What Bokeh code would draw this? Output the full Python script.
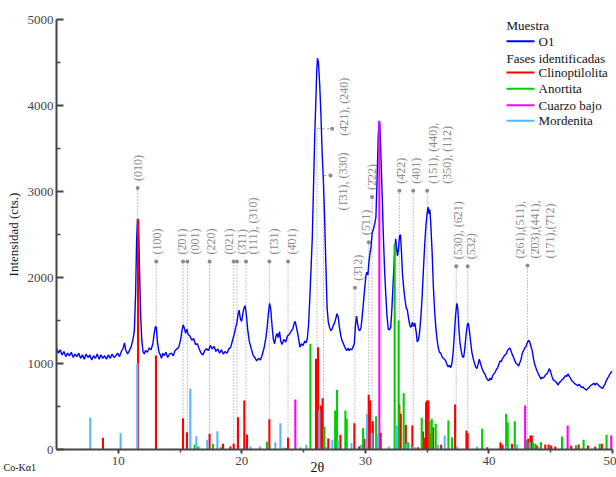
import math
from bokeh.plotting import figure
from bokeh.models import Range1d, FixedTicker, Title, ColumnDataSource
from bokeh.core.properties import value
from bokeh.embed import file_html
from bokeh.resources import INLINE

# ---------------- data ----------------
two_theta = [5.0, 5.15, 5.3, 5.45, 5.6, 5.75, 5.9, 6.05, 6.2, 6.35, 6.5, 6.65, 6.8, 6.95, 7.1, 7.25, 7.4, 7.55, 7.7, 7.85,
             8.0, 8.15, 8.3, 8.45, 8.6, 8.75, 8.9, 9.05, 9.2, 9.35, 9.5, 9.65, 9.8, 9.95, 10.1, 10.25, 10.4, 10.5, 10.6, 10.75,
             10.9, 11.05, 11.2, 11.3, 11.4, 11.48, 11.55, 11.63, 11.72, 11.8, 11.9, 12.0, 12.1, 12.2, 12.35, 12.5, 12.65, 12.8, 12.9, 13.0,
             13.08, 13.18, 13.3, 13.4, 13.5, 13.6, 13.7, 13.85, 14.0, 14.15, 14.3, 14.45, 14.6, 14.75, 14.9, 15.05, 15.15, 15.25, 15.35, 15.45,
             15.55, 15.65, 15.8, 15.95, 16.1, 16.25, 16.4, 16.55, 16.7, 16.85, 17.0, 17.15, 17.3, 17.45, 17.6, 17.75, 17.9, 18.05, 18.2, 18.35,
             18.5, 18.65, 18.8, 18.95, 19.1, 19.25, 19.4, 19.5, 19.6, 19.7, 19.78, 19.88, 19.98, 20.08, 20.18, 20.27, 20.37, 20.47, 20.6, 20.75,
             20.9, 21.05, 21.2, 21.35, 21.5, 21.65, 21.8, 21.95, 22.05, 22.15, 22.25, 22.35, 22.45, 22.55, 22.65, 22.75, 22.85, 22.95, 23.05, 23.15,
             23.25, 23.4, 23.55, 23.7, 23.85, 24.0, 24.12, 24.22, 24.32, 24.42, 24.55, 24.7, 24.82, 24.95, 25.1, 25.2, 25.3, 25.4, 25.5, 25.6,
             25.7, 25.8, 25.9, 25.98, 26.06, 26.12, 26.2, 26.3, 26.4, 26.5, 26.6, 26.7, 26.8, 26.9, 27.0, 27.1, 27.2, 27.3, 27.4, 27.5,
             27.6, 27.7, 27.8, 27.9, 28.0, 28.1, 28.2, 28.3, 28.4, 28.5, 28.6, 28.7, 28.8, 28.9, 29.0, 29.1, 29.2, 29.28, 29.36, 29.45,
             29.55, 29.65, 29.75, 29.85, 29.95, 30.05, 30.12, 30.2, 30.3, 30.38, 30.45, 30.55, 30.65, 30.75, 30.85, 30.95, 31.03, 31.1, 31.17, 31.25,
             31.35, 31.45, 31.55, 31.65, 31.75, 31.85, 31.95, 32.05, 32.15, 32.25, 32.35, 32.45, 32.52, 32.6, 32.68, 32.76, 32.84, 32.92, 33.0, 33.1,
             33.2, 33.3, 33.4, 33.5, 33.6, 33.7, 33.8, 33.9, 34.0, 34.1, 34.2, 34.3, 34.4, 34.5, 34.6, 34.7, 34.8, 34.9, 35.0, 35.08,
             35.15, 35.22, 35.3, 35.4, 35.5, 35.6, 35.7, 35.8, 35.9, 36.0, 36.1, 36.2, 36.3, 36.4, 36.5, 36.6, 36.7, 36.8, 36.9, 37.0,
             37.1, 37.2, 37.3, 37.4, 37.48, 37.56, 37.65, 37.75, 37.85, 37.95, 38.05, 38.15, 38.25, 38.33, 38.42, 38.52, 38.62, 38.72, 38.82, 38.92,
             39.02, 39.12, 39.22, 39.3, 39.4, 39.5, 39.6, 39.7, 39.8, 39.9, 40.0, 40.1, 40.2, 40.3, 40.4, 40.5, 40.6, 40.7, 40.8, 40.9,
             41.0, 41.1, 41.2, 41.3, 41.4, 41.5, 41.6, 41.7, 41.8, 41.9, 42.0, 42.1, 42.2, 42.3, 42.4, 42.5, 42.6, 42.7, 42.8, 42.9,
             43.0, 43.1, 43.2, 43.3, 43.4, 43.5, 43.6, 43.7, 43.8, 43.9, 44.0, 44.1, 44.2, 44.3, 44.4, 44.5, 44.6, 44.7, 44.8, 44.9,
             45.0, 45.1, 45.2, 45.3, 45.4, 45.5, 45.6, 45.7, 45.8, 45.9, 46.0, 46.1, 46.2, 46.3, 46.4, 46.5, 46.6, 46.7, 46.8, 46.9,
             47.0, 47.1, 47.2, 47.3, 47.4, 47.5, 47.6, 47.7, 47.8, 47.9, 48.0, 48.1, 48.2, 48.3, 48.4, 48.5, 48.6, 48.7, 48.8, 48.9,
             49.0, 49.1, 49.2, 49.3, 49.4, 49.5, 49.6, 49.7, 49.8, 49.9, 50.0]
intensity = [1180, 1120, 1160, 1100, 1140, 1080, 1120, 1090, 1130, 1070, 1110, 1080, 1120, 1060, 1100, 1050, 1110, 1070, 1100, 1040,
             1090, 1060, 1110, 1050, 1100, 1060, 1090, 1050, 1100, 1060, 1110, 1070, 1090, 1120, 1080, 1140, 1180, 1240, 1160, 1110,
             1150, 1200, 1290, 1380, 1800, 2400, 2680, 2650, 2100, 1600, 1280, 1140, 1110, 1150, 1130, 1180, 1160, 1230, 1340, 1430,
             1420, 1240, 1130, 1100, 1060, 1120, 1090, 1130, 1070, 1110, 1120, 1090, 1150, 1170, 1190, 1280, 1380, 1450, 1410, 1350,
             1400, 1340, 1320, 1270, 1290, 1220, 1230, 1170, 1120, 1100, 1150, 1170, 1150, 1210, 1170, 1200, 1140, 1170, 1120, 1160,
             1110, 1140, 1120, 1170, 1190, 1270, 1350, 1420, 1470, 1580, 1620, 1520, 1490, 1580, 1650, 1670, 1560, 1400, 1260, 1180,
             1100, 1070, 1030, 1060, 1040, 1100, 1180, 1300, 1420, 1580, 1700, 1620, 1430, 1280, 1230, 1310, 1350, 1300, 1370, 1260,
             1220, 1280, 1250, 1320, 1340, 1380, 1400, 1460, 1490, 1420, 1330, 1190, 1230, 1210, 1260, 1240, 1290, 1450, 1750, 2100,
             2450, 3050, 3650, 4000, 4400, 4550, 4500, 4250, 3900, 3450, 3130, 2700, 2150, 1650, 1480, 1420, 1380, 1400, 1440, 1470,
             1520, 1580, 1540, 1420, 1330, 1270, 1240, 1200, 1170, 1150, 1180, 1150, 1170, 1160, 1190, 1230, 1450, 1550, 1470, 1400,
             1380, 1420, 1560, 1720, 1880, 2030, 2060, 2030, 2200, 2290, 2350, 2520, 2560, 2620, 2700, 3150, 3600, 3820, 3780, 3450,
             3000, 2500, 2100, 1800, 1550, 1400, 1390, 1420, 1650, 1950, 2250, 2450, 2350, 2250, 2330, 2480, 2500, 2300, 2050, 1880,
             1750, 1650, 1620, 1520, 1440, 1420, 1480, 1430, 1470, 1380, 1250, 1280, 1380, 1560, 1800, 2100, 2380, 2600, 2750, 2820,
             2740, 2790, 2600, 2300, 1900, 1620, 1420, 1280, 1180, 1130, 1120, 1080, 1060, 1050, 1030, 990, 960, 980, 950, 1000,
             1120, 1340, 1560, 1700, 1640, 1420, 1250, 1150, 1080, 1070, 1180, 1340, 1450, 1470, 1380, 1250, 1130, 1060, 1010, 960,
             940, 990, 1050, 1010, 960, 920, 890, 870, 830, 810, 800, 830, 810, 860, 880, 900, 930, 950, 990, 1030,
             1020, 1060, 1080, 1100, 1110, 1150, 1170, 1180, 1140, 1100, 1070, 1030, 1000, 990, 970, 1010, 1050, 1120, 1150, 1180,
             1200, 1240, 1270, 1250, 1200, 1150, 1060, 990, 950, 910, 880, 850, 820, 840, 830, 850, 870, 880, 910, 940,
             900, 850, 810, 800, 790, 770, 750, 780, 790, 810, 820, 840, 860, 850, 880, 850, 830, 800, 790, 770,
             760, 750, 740, 760, 740, 720, 730, 710, 700, 690, 710, 720, 740, 750, 760, 770, 750, 770, 760, 740,
             730, 720, 710, 740, 760, 800, 830, 850, 880, 900, 910]

clino_pos = [8.76, 11.6, 13.05, 15.24, 15.56, 17.39, 18.48, 19.07, 19.34, 19.69, 20.2, 20.42, 22.23, 23.74, 26.0, 26.17,
             26.41, 26.54, 27.0, 27.65, 27.98, 29.11, 29.49, 29.92, 30.27, 30.38, 30.6, 31.24, 32.75, 32.86, 33.27, 33.8,
             34.27, 34.67, 34.8, 34.91, 34.99, 35.1, 35.29, 35.48, 36.13, 37.26, 38.18, 38.28, 39.86, 40.93, 41.09, 41.87,
             43.18, 43.36, 43.47, 43.89, 44.56, 44.83, 45.04, 45.37, 46.66, 47.26, 48.01, 48.6, 49.14, 50.0]
clino_int = [136, 2680, 1093, 364, 201, 182, 66, 35, 66, 376, 570, 174, 352, 136, 1054, 1190,
             512, 597, 128, 182, 171, 306, 35, 124, 636, 570, 329, 194, 523, 415, 287, 279,
             27, 209, 136, 550, 570, 570, 190, 259, 55, 523, 221, 190, 27, 85, 58, 66,
             124, 163, 163, 47, 58, 58, 47, 35, 47, 58, 47, 35, 66, 163]

anort_pos = [16.18, 16.48, 17.67, 18.32, 22.04, 23.6, 25.55, 26.68, 27.55, 27.7, 28.38, 28.49, 29.81, 30.87, 32.37, 32.69,
             33.1, 33.46, 34.56, 35.2, 35.37, 35.69, 36.72, 37.02, 39.45, 41.39, 41.52, 42.09, 43.01, 43.56, 43.75, 44.21,
             45.91, 47.04, 47.66, 48.96, 49.52]
anort_int = [58, 35, 66, 27, 90, 20, 1229, 267, 453, 694, 453, 357, 248, 387, 2390, 1500,
             655, 85, 368, 337, 357, 299, 337, 143, 240, 415, 318, 329, 113, 85, 66, 85,
             151, 50, 113, 66, 171]

cuarzo_pos = [24.33, 31.13, 42.93, 46.37, 49.9]
cuarzo_int = [581, 3820, 512, 279, 163]

morden_pos = [7.73, 10.19, 11.54, 15.83, 16.32, 17.2, 18.02, 20.69, 21.45, 22.71, 23.12, 23.39, 24.74, 25.22, 26.27, 26.79,
              27.33, 27.79, 28.87, 29.65, 30.13, 30.51, 31.0, 31.89, 32.56, 33.32, 33.86, 34.05, 35.89, 36.42, 37.43, 39.05,
              41.39, 42.28, 43.3, 44.0, 50.0]
morden_int = [368, 190, 1003, 705, 155, 113, 213, 38, 38, 85, 306, 23, 27, 55, 453, 35,
              113, 105, 73, 55, 415, 190, 182, 35, 279, 66, 35, 27, 55, 163, 35, 35,
              40, 58, 85, 30, 20]

ann_pos = [11.57, 13.08, 15.24, 15.59, 17.39, 19.34, 19.61, 20.34, 22.23, 23.74,
           26.08, 26.61, 29.15, 30.27, 30.54, 32.75, 33.87, 35.0, 37.35, 38.28, 43.12]
ann_height = [3040, 2186, 2186, 2186, 2186, 2186, 2186, 2186, 2186, 2186,
              3730, 3186, 1880, 2410, 2935, 3010, 3010, 3010, 2130, 2130, 2140]
ann_label = ["(010)", "(100)", "(2\u030401)", "(001)", "(220)", "(021)", "(3\u030411)", "(111), (310)", "(1\u030431)", "(4\u030401)",
             "(4\u030421), (240)", "(1\u030431), (330)", "(3\u030412)", "(5\u030411)", "(2\u030422)", "(4\u030422)", "(401)",
             "(151), (440),\n(350), (112)", "(530), (6\u030421)", "(5\u030432)",
             "(261),(511),\n(2\u030403),(441),\n(171),(7\u030412)"]

legend_series = ["O1", "Clinoptilolita", "Anortita", "Cuarzo bajo", "Mordenita"]

# ---------------- layout (pixels of the page; page has no body margin) ----------------
CANVAS_W, CANVAS_H = 616, 477
B_LEFT, B_TOP = 56, 19
FRAME_W, FRAME_H = 556, 430
B_RIGHT = CANVAS_W - B_LEFT - FRAME_W
B_BOTTOM = CANVAS_H - B_TOP - FRAME_H
FRAME_L, FRAME_T = B_LEFT, B_TOP
XMIN, XMAX, YMIN, YMAX = 5.0, 50.0, 0.0, 5000.0


def dx(px):
    return XMIN + (px - FRAME_L) * (XMAX - XMIN) / FRAME_W


def dy(py):
    return YMIN + (FRAME_T + FRAME_H - py) * (YMAX - YMIN) / FRAME_H


SERIF = "Liberation Serif"
C_CURVE = "#0000ff"
C_CLINO = "#ff0000"
C_ANORT = "#00d000"
C_CUARZO = "#ff00ff"
C_MORDEN = "#55b8ff"
C_ANN = "#8c8c8c"

p = figure(width=CANVAS_W, height=CANVAS_H, x_range=Range1d(XMIN, XMAX), y_range=Range1d(YMIN, YMAX),
           output_backend="svg", toolbar_location=None,
           min_border_left=B_LEFT, min_border_right=B_RIGHT, min_border_top=B_TOP, min_border_bottom=B_BOTTOM)
p.outline_line_color = None
p.grid.visible = False
p.background_fill_color = "white"
p.border_fill_color = "white"

# axes
p.xaxis.ticker = FixedTicker(ticks=[10, 20, 30, 40, 50], minor_ticks=[15, 25, 35, 45])
p.yaxis.ticker = FixedTicker(ticks=[0, 1000, 2000, 3000, 4000, 5000], minor_ticks=[500, 1500, 2500, 3500, 4500])
for ax in (p.xaxis[0], p.yaxis[0]):
    ax.axis_line_color = "#444444"
    ax.axis_line_width = 2
    ax.major_tick_line_color = "#444444"
    ax.major_tick_line_width = 2
    ax.minor_tick_line_color = "#444444"
    ax.minor_tick_line_width = 1.5
    ax.major_label_text_font = SERIF
    ax.major_label_text_font_size = "13px"
    ax.major_label_text_color = "#444444"
p.yaxis.major_tick_in = 7
p.yaxis.major_tick_out = 0
p.yaxis.minor_tick_in = 4
p.yaxis.minor_tick_out = 0
p.yaxis.major_label_standoff = 3
p.yaxis.axis_label = "Intensidad (cts.)"
p.yaxis.axis_label_text_font = SERIF
p.yaxis.axis_label_text_font_size = "13px"
p.yaxis.axis_label_text_font_style = "normal"
p.yaxis.axis_label_text_color = "#111111"
p.yaxis.axis_label_standoff = 4
p.xaxis.major_tick_in = 0
p.xaxis.major_tick_out = 4
p.xaxis.minor_tick_in = 0
p.xaxis.minor_tick_out = 3
p.xaxis.major_label_standoff = 3

# annotation guide lines (dotted)
p.segment(x0=ann_pos, y0=[0] * len(ann_pos), x1=ann_pos, y1=ann_height,
          line_color=C_ANN, line_width=1, line_dash="1 2")

# horizontal leaders for the two labels on the main peak
lead_idx = [10, 11]
lead_end = [dx(331.7), dx(330.0)]
p.segment(x0=[ann_pos[i] for i in lead_idx], y0=[ann_height[i] for i in lead_idx],
          x1=lead_end, y1=[ann_height[i] for i in lead_idx],
          line_color="#b0b0b0", line_width=1, line_dash="3 2")

# marker dots
mark_x = list(ann_pos)
for k, i in enumerate(lead_idx):
    mark_x[i] = lead_end[k]
p.scatter(x=mark_x, y=ann_height, size=4, color=C_ANN, line_color=None)

# labels (rotated); per-line horizontal nudges in pixels
line_dx = {0: [0], 1: [1], 2: [-1], 3: [8], 4: [1], 5: [-5], 6: [5], 7: [7], 8: [5], 9: [4],
           12: [3], 13: [-3], 14: [0], 15: [2], 16: [3], 17: [6, 20], 18: [2], 19: [3], 20: [-7, 8, 23]}
lead_dy = {10: 7, 11: 35}
lab_x, lab_y, lab_t, lab_xo, lab_yo = [], [], [], [], []
for i, (xv, hv, txt) in enumerate(zip(ann_pos, ann_height, ann_label)):
    lines = txt.split("\n")
    offs = line_dx.get(i, [0] * len(lines))
    for j, ln in enumerate(lines):
        if i in lead_idx:
            lab_x.append(lead_end[lead_idx.index(i)])
            lab_xo.append(12)
            lab_yo.append(lead_dy[i])
        else:
            lab_x.append(xv)
            lab_xo.append(offs[j])
            lab_yo.append(-7)
        lab_y.append(hv)
        lab_t.append(ln)
src = ColumnDataSource(dict(x=lab_x, y=lab_y, t=lab_t, xo=lab_xo, yo=lab_yo))
p.text(x="x", y="y", text="t", x_offset="xo", y_offset="yo", source=src, angle=math.pi / 2,
       text_font=value(SERIF), text_font_size="12px", text_color=C_ANN,
       text_align="left", text_baseline="middle")

# measured pattern
p.line(two_theta, intensity, line_color=C_CURVE, line_width=1.4)

# reference phase sticks
BW = 0.17
p.vbar(x=clino_pos, top=clino_int, bottom=0, width=BW, fill_color=C_CLINO, line_color=None)
p.vbar(x=anort_pos, top=anort_int, bottom=0, width=BW, fill_color=C_ANORT, line_color=None)
p.vbar(x=cuarzo_pos, top=cuarzo_int, bottom=0, width=BW, fill_color=C_CUARZO, line_color=None)
p.vbar(x=morden_pos, top=morden_int, bottom=0, width=BW, fill_color=C_MORDEN, line_color=None)

# legend (manual, to reproduce section headers)
head_y = [25.0, 57.5]
head_t = ["Muestra", "Fases identificadas"]
p.text(x=[dx(506)] * 2, y=[dy(v) for v in head_y], text=head_t, text_font=value(SERIF),
       text_font_size="13px", text_color="#111111", text_align="left", text_baseline="middle")
entry_y = [40.7, 72.0, 88.3, 104.8, 120.3]
entry_c = [C_CURVE, C_CLINO, C_ANORT, C_CUARZO, C_MORDEN]
p.segment(x0=[dx(506)] * 5, y0=[dy(v) for v in entry_y], x1=[dx(534)] * 5, y1=[dy(v) for v in entry_y],
          line_color=entry_c, line_width=2)
p.text(x=[dx(538)] * 5, y=[dy(v) for v in entry_y], text=legend_series, text_font=value(SERIF),
       text_font_size="13px", text_color="#111111", text_align="left", text_baseline="middle")

# x axis title and radiation note, as titles in the bottom panel (near-zero height)
t_axis = Title(text="2\u03b8", align="left", offset=315 - FRAME_L - 5, vertical_align="middle",
               text_font=SERIF, text_font_size="14px", text_font_style="normal",
               text_color="#111111", standoff=-18)
t_rad = Title(text="Co-K\u03b11", align="left", offset=8 - FRAME_L - 5, vertical_align="middle",
              text_font=SERIF, text_font_size="10px", text_font_style="normal",
              text_color="#111111", standoff=-13)
p.add_layout(t_axis, "below")
p.add_layout(t_rad, "below")

open("out.html", "w").write(file_html(p, INLINE))
